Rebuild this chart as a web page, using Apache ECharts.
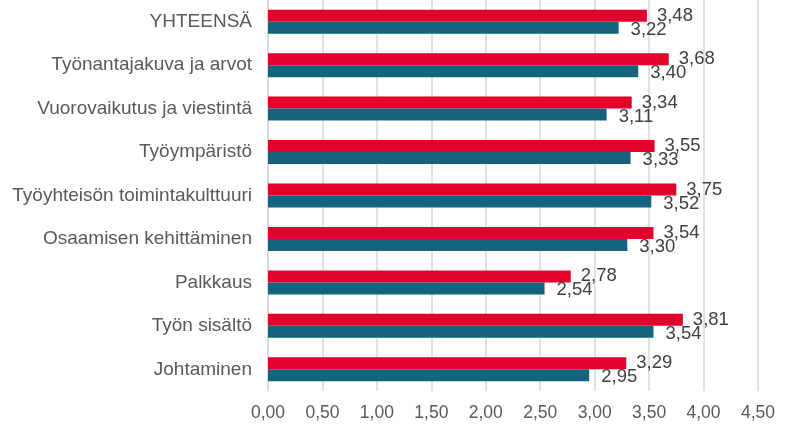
<!DOCTYPE html>
<html><head><meta charset="utf-8">
<script src="https://cdn.jsdelivr.net/npm/echarts@6/dist/echarts.min.js"></script>
<style>html,body{margin:0;padding:0;background:#fff}#c{width:800px;height:428px}</style>
</head><body><div id="c"></div>
<script>
// Categories bottom-to-top
var categories = ['Johtaminen','Työn sisältö','Palkkaus','Osaamisen kehittäminen','Työyhteisön toimintakulttuuri','Työympäristö','Vuorovaikutus ja viestintä','Työnantajakuva ja arvot','YHTEENSÄ'];
var redValues  = [3.29, 3.81, 2.78, 3.54, 3.75, 3.55, 3.34, 3.68, 3.48];
var tealValues = [2.95, 3.54, 2.54, 3.30, 3.52, 3.33, 3.11, 3.40, 3.22];
var xTicks = [0, 0.5, 1, 1.5, 2, 2.5, 3, 3.5, 4, 4.5];

function fmt(v){ return Number(v).toFixed(2).replace('.', ','); }
var FONT = '"Liberation Sans", Arial, sans-serif';
var chart = echarts.init(document.getElementById('c'), null, {renderer:'canvas'});
chart.setOption({
  animation: false,
  grid: {left: 268, right: 42, top: -2, bottom: 37, containLabel: false},
  xAxis: {
    type: 'value', min: xTicks[0], max: xTicks[xTicks.length-1], interval: 0.5,
    axisLine: {show: false}, axisTick: {show: false},
    splitLine: {show: true, lineStyle: {color: '#d9d9d9', width: 1.5}},
    axisLabel: {formatter: fmt, color: '#595959', fontSize: 17.5, fontFamily: FONT, margin: 13}
  },
  yAxis: {
    type: 'category', data: categories,
    axisLine: {show: true, lineStyle: {color: '#d9d9d9', width: 1.5}},
    axisTick: {show: false},
    axisLabel: {color: '#595959', fontSize: 19, fontFamily: FONT, margin: 16}
  },
  series: [
    {
      type: 'bar', name: 'A', data: redValues, barWidth: 12, barGap: '0%',
      itemStyle: {color: '#e3002b'},
      label: {show: true, position: 'right', distance: 5, offset: [5, 0], formatter: function(p){return fmt(p.value);},
        color: '#404040', fontSize: 18.5, fontFamily: FONT}
    },
    {
      type: 'bar', name: 'B', data: tealValues, barWidth: 12, barGap: '0%',
      itemStyle: {color: '#16637f'},
      label: {show: true, position: 'right', distance: 5, offset: [7, 2], formatter: function(p){return fmt(p.value);},
        color: '#404040', fontSize: 18.5, fontFamily: FONT}
    }
  ]
});
</script></body></html>
